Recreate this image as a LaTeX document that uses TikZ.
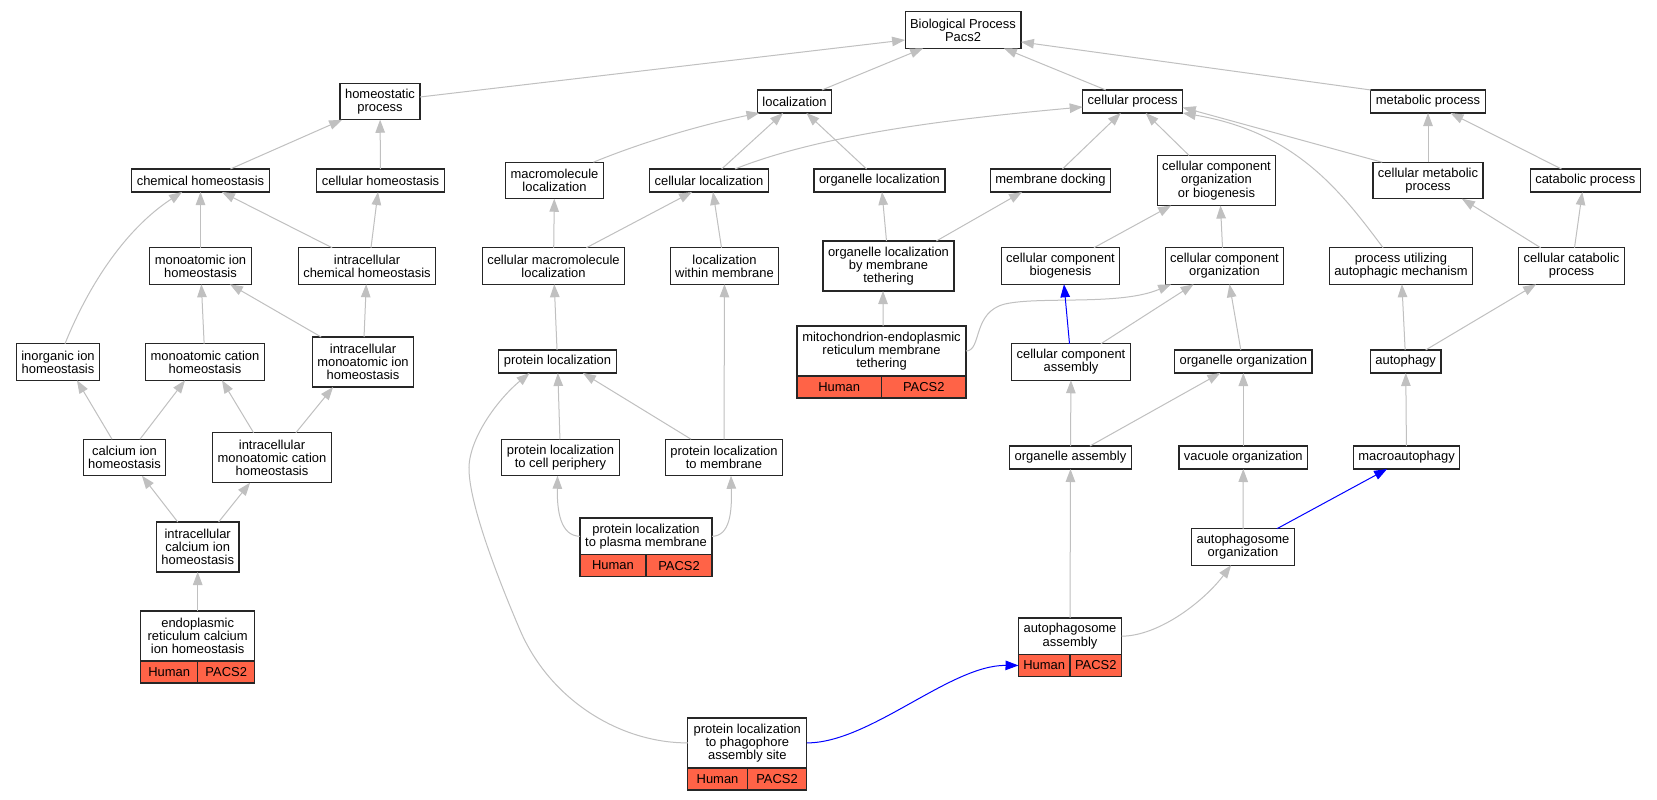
\documentclass[tikz,border=0pt]{standalone}
\usepackage{fontspec}
\setmainfont{Liberation Sans}
\usepackage{tikz}
\usetikzlibrary{arrows.meta,positioning}
\definecolor{isagray}{HTML}{C0C0C0}
\definecolor{tomato}{HTML}{FF6347}
\tikzstyle{term} = [draw=black!85, line width=1.2bp, fill=white, align=center, inner xsep=5bp, inner ysep=0bp, outer sep=0bp, minimum height=23bp, font=\fontsize{13}{13.3}\selectfont]
\tikzstyle{rows2} = [minimum height=36.5bp]
\tikzstyle{rows3} = [minimum height=50bp]
\tikzstyle{gene} = [term, fill=tomato, minimum height=22bp, inner xsep=0bp]
\tikzstyle{isa} = [draw=isagray, line width=1bp, -{Triangle[length=13bp,width=9.5bp]}]
\tikzstyle{hit} = [isa, draw=blue]
% Human | PACS2 row under an annotated term
\newcommand{\generow}[2]{%
  \node[gene, minimum width=#2, below left=0bp and 0bp of #1.south] (#1h) {Human};
  \node[gene, minimum width=#2, right=0bp of #1h] (#1p) {PACS2};}

\begin{document}
\begin{tikzpicture}[x=1bp, y=-1bp]
\fill[white] (0,0) rectangle (1657,800);
% rank 0 and 1
\node[term, rows2] (bp) at (963,30) {Biological Process\\Pacs2};
\node[term, rows2] (hp) at (380,101.5) {homeostatic\\process};
\node[term] (loc) at (794.5,101.5) {localization};
\node[term] (cp) at (1132.7,101.5) {cellular process};
\node[term] (mp) at (1428,101.5) {metabolic process};
% rank 2
\node[term] (ch) at (200.5,180.5) {chemical homeostasis};
\node[term] (clh) at (380.5,180.5) {cellular homeostasis};
\node[term, rows2] (mml) at (554.5,180.5) {macromolecule\\localization};
\node[term] (cl) at (709,180.5) {cellular localization};
\node[term] (ol) at (879.5,180.5) {organelle localization};
\node[term] (md) at (1050.5,180.5) {membrane docking};
\node[term, rows3] (ccob) at (1216.5,180.5) {cellular component\\organization\\or biogenesis};
\node[term, rows2] (cmp) at (1428,180.5) {cellular metabolic\\process};
\node[term] (cap) at (1585.3,180.5) {catabolic process};
% rank 3
\node[term, rows2] (mih) at (200.5,266) {monoatomic ion\\homeostasis};
\node[term, rows2] (ich) at (367,266) {intracellular\\chemical homeostasis};
\node[term, rows2] (cml) at (553.5,266) {cellular macromolecule\\localization};
\node[term, rows2] (lwm) at (724.5,266) {localization\\within membrane};
\node[term, rows3] (olt) at (888.5,266) {organelle localization\\by membrane\\tethering};
\node[term, rows2] (ccb) at (1060.5,266) {cellular component\\biogenesis};
\node[term, rows2] (cco) at (1224.5,266) {cellular component\\organization};
\node[term, rows2] (pua) at (1401,266) {process utilizing\\autophagic mechanism};
\node[term, rows2] (ccp) at (1571.5,266) {cellular catabolic\\process};
% rank 4
\node[term, rows2] (iih) at (58,362) {inorganic ion\\homeostasis};
\node[term, rows2] (mch) at (205,362) {monoatomic cation\\homeostasis};
\node[term, rows3] (imih) at (363,362) {intracellular\\monoatomic ion\\homeostasis};
\node[term] (pl) at (557.5,361.5) {protein localization};
\node[term, rows3, minimum width=169bp] (mert) at (881.5,351) {mitochondrion-endoplasmic\\reticulum membrane\\tethering};
\node[term, rows2] (cca) at (1071,362) {cellular component\\assembly};
\node[term] (oo) at (1243.3,361.5) {organelle organization};
\node[term] (au) at (1405.7,361.5) {autophagy};
% rank 5
\node[term, rows2] (cih) at (124.5,457.5) {calcium ion\\homeostasis};
\node[term, rows3] (imch) at (272,457.7) {intracellular\\monoatomic cation\\homeostasis};
\node[term, rows2] (plcp) at (560.5,457.5) {protein localization\\to cell periphery};
\node[term, rows2] (plm) at (724,457.5) {protein localization\\to membrane};
\node[term] (oa) at (1070.5,457.5) {organelle assembly};
\node[term] (vo) at (1243.3,457.5) {vacuole organization};
\node[term] (ma) at (1406.5,457.5) {macroautophagy};
% rank 6 and below
\node[term, rows3] (icih) at (197.7,547) {intracellular\\calcium ion\\homeostasis};
\node[term, rows2, minimum width=132bp] (plpm) at (646,536.3) {protein localization\\to plasma membrane};
\node[term, rows2] (ao) at (1243,547) {autophagosome\\organization};
\node[term, rows3, minimum width=114bp] (erc) at (197.7,636) {endoplasmic\\reticulum calcium\\ion homeostasis};
\node[term, rows2, minimum width=103bp] (aa) at (1070,636.2) {autophagosome\\assembly};
\node[term, rows3, minimum width=119bp] (pps) at (747.3,742.9) {protein localization\\to phagophore\\assembly site};
\generow{mert}{84.5bp}
\generow{plpm}{66bp}
\generow{erc}{57bp}
\generow{aa}{51.5bp}
\generow{pps}{59.5bp}

% is_a edges
\foreach \a/\b in {clh/hp, mih/ch, mch/mih, imih/ich, erc/icih, cml/mml, pl/cml, plcp/pl, plm/lwm, cmp/mp, au/pua, oa/cca, vo/oo, ma/au, ao/vo, aa/oa}
  \draw[isa] (\a) -- (\b);
\foreach \a/\sa/\b/\sb in {loc/27.5/bp/-40, cp/-27/bp/41, ch/30/hp/-38, ich/-35/ch/21.5, ich/4/clh/-2.5, imih/-42/mih/29.5, cih/-12.5/iih/19, cih/15.5/mch/-20, imch/-18.5/mch/17, imch/24/imih/-30, icih/-20/cih/17.5, icih/21/imch/-22, cl/12.7/loc/-11.5, ol/-13/loc/12, cml/33/cl/-17, lwm/-3/cl/4, olt/-2/ol/2.5, olt/48/md/-28.5, mert/1.5/olt/-5.5, plm/-33/pl/25.5, md/12/cp/-12, ccob/-27.5/cp/13, cap/-24/mp/22.5, ccb/33.5/ccob/-45.5, cco/-2/ccob/4, ccp/-31/cmp/34, ccp/3/cap/-3, cca/30/cco/-31, oo/-2.5/cco/5, au/20/ccp/-35.5, oa/19.5/oo/-23}
  \draw[isa] ([xshift=\sa]\a.north) -- ([xshift=\sb]\b.south);
\draw[isa] ([yshift=4.5]hp.east) -- ([yshift=-10]bp.west);
\draw[isa] (mp.north west) -- ([yshift=-12]bp.east);
\draw[isa] ([xshift=-46]cmp.north) -- ([yshift=-6]cp.east);
\draw[isa] ([xshift=-18]pua.north) .. controls (1340,190) and (1295,132) .. (cp.south east);
\draw[isa] ([xshift=7]iih.north) .. controls (90,282) and (127,228) .. ([xshift=-18.5]ch.south);
\draw[isa] ([xshift=39]mml.north) .. controls (640,143) and (700,125) .. ([xshift=2]loc.south west);
\draw[isa] ([xshift=26]cl.north) .. controls (825,133) and (962,118) .. ([yshift=-5.5]cp.west);
\draw[isa] (mert.east) .. controls (982,351) and (972,312) .. (1005,304) .. controls (1040,296) and (1120,306) .. ([xshift=6]cco.south west);
\draw[isa] (plpm.west) .. controls (560,536) and (557,510) .. ([xshift=-3]plcp.south);
\draw[isa] (plpm.east) .. controls (730,536) and (732,512) .. ([xshift=7]plm.south);
\draw[isa] (pps.west) .. controls (620,743) and (550,700) .. (520,630) .. controls (505,595) and (470,510) .. (469,470) .. controls (468,440) and (497,400) .. ([xshift=-28]pl.south);
\draw[isa] (aa.east) .. controls (1160,636) and (1205,600) .. ([xshift=-12]ao.south);
% PACS2 edges
\draw[hit] ([xshift=-1.5]cca.north) -- ([xshift=3.5]ccb.south);
\draw[hit] ([xshift=34]ao.north) -- ([xshift=-19.5]ma.south);
\draw[hit] (pps.east) .. controls (870,743) and (950,665) .. (aah.west);
\end{tikzpicture}
\end{document}
